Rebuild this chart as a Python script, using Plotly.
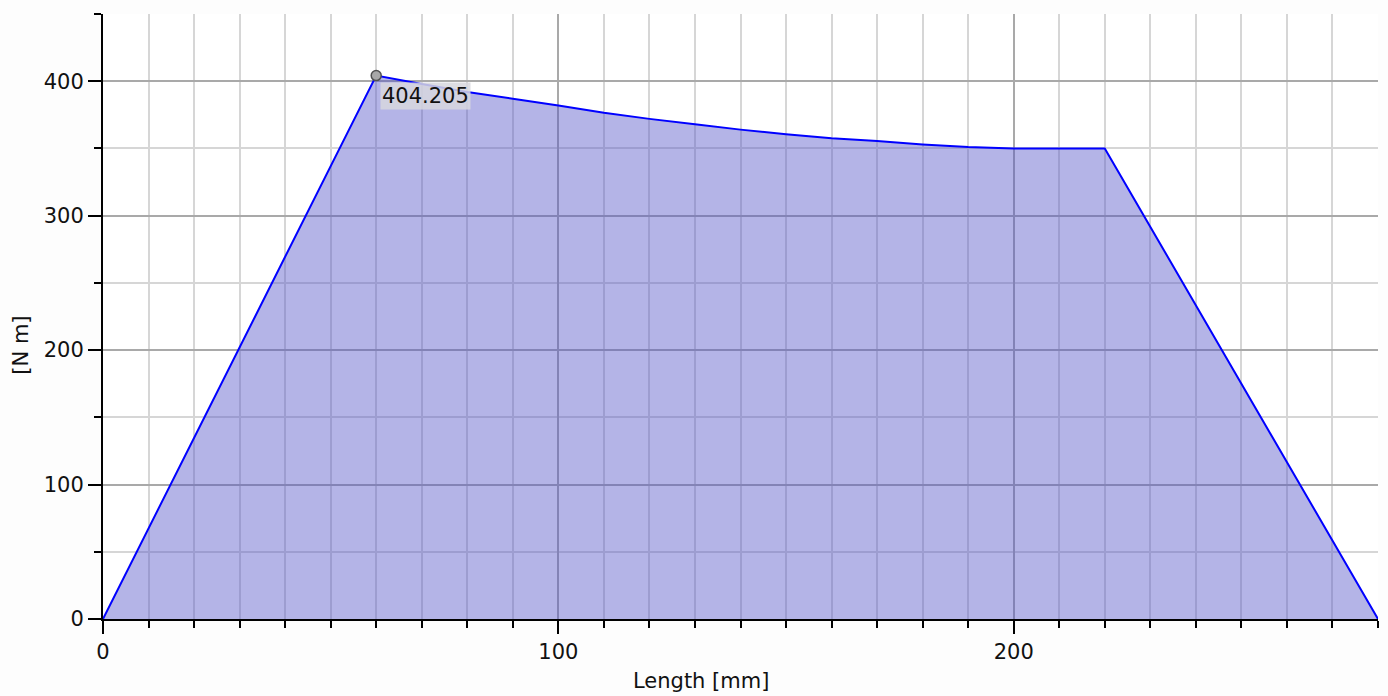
import plotly.graph_objects as go

# Bending moment along the shaft
length_mm = [0, 60, 70, 80, 90, 100, 110, 120, 130, 140, 150, 160, 170, 180, 190, 200, 210, 220, 280]
moment_nm = [0, 404.205, 398, 392, 387, 382, 376.5, 372, 368, 364, 360.5, 357.5, 355.5, 353, 351, 350, 350, 350, 0]

peak_x = [60]
peak_y = [404.205]
peak_label = ["404.205"]

FONT = "DejaVu Sans"
TXT = "#111111"
SIZE = 21

fig = go.Figure()

fig.add_trace(go.Scatter(
    x=length_mm, y=moment_nm, mode="lines",
    line=dict(color="#0000ff", width=2, simplify=False),
    fill="tozeroy", fillcolor="rgba(80,80,200,0.43)",
    hoverinfo="skip", showlegend=False,
))

fig.add_trace(go.Scatter(
    x=peak_x, y=peak_y, mode="markers",
    marker=dict(size=10, color="#a8a8a8", line=dict(color="#505050", width=1.5)),
    hoverinfo="skip", showlegend=False,
))

for px, py, txt in zip(peak_x, peak_y, peak_label):
    fig.add_annotation(
        x=px, y=py, text=txt, showarrow=False,
        xanchor="left", yanchor="top", xshift=4, yshift=-6,
        bgcolor="rgba(215,215,222,0.85)", borderpad=1,
        font=dict(family=FONT, size=SIZE, color=TXT),
    )

# Axis titles placed as paper annotations
fig.add_annotation(
    xref="paper", yref="paper", x=0.469, y=-0.103,
    text="Length [mm]", showarrow=False, xanchor="center", yanchor="middle",
    font=dict(family=FONT, size=SIZE, color=TXT),
)
fig.add_annotation(
    xref="paper", yref="paper", x=-0.065, y=0.452,
    text="[N m]", showarrow=False, textangle=-90, xanchor="center", yanchor="middle",
    font=dict(family=FONT, size=SIZE, color=TXT),
)

grid_minor = "#d6d6d6"
grid_major = "#a9a9a9"

fig.update_xaxes(
    range=[0, 280], dtick=100, tick0=0,
    showgrid=True, gridcolor=grid_major, gridwidth=2,
    ticks="outside", ticklen=13, tickwidth=2, tickcolor="black",
    showline=True, linecolor="black", linewidth=2,
    zeroline=False,
    minor=dict(dtick=10, tick0=0, ticks="outside", ticklen=7, tickwidth=2,
               tickcolor="black", showgrid=True, gridcolor=grid_minor, gridwidth=2),
    tickfont=dict(family=FONT, size=SIZE, color=TXT),
)

fig.update_yaxes(
    range=[0, 450], dtick=100, tick0=0,
    showgrid=True, gridcolor=grid_major, gridwidth=2,
    ticks="outside", ticklen=13, tickwidth=2, tickcolor="black",
    showline=True, linecolor="black", linewidth=2,
    zeroline=False,
    minor=dict(dtick=50, tick0=0, ticks="outside", ticklen=7, tickwidth=2,
               tickcolor="black", showgrid=True, gridcolor=grid_minor, gridwidth=2),
    tickfont=dict(family=FONT, size=SIZE, color=TXT),
)

fig.update_layout(
    width=1388, height=696,
    margin=dict(l=103, r=10, t=14, b=77),
    paper_bgcolor="#fdfdfd", plot_bgcolor="white",
    font=dict(family=FONT),
)

fig.write_html("out.html")
